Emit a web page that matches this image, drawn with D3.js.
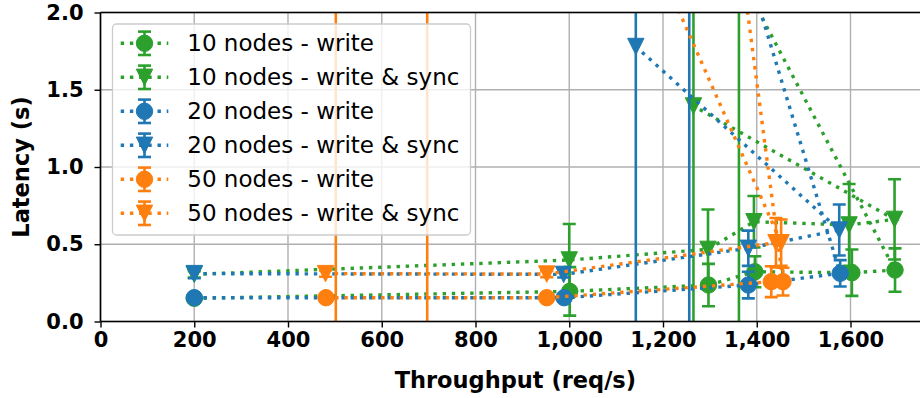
<!DOCTYPE html>
<html lang="en">
<head>
<meta charset="UTF-8">
<title>Latency vs throughput</title>
<script src="https://d3js.org/d3.v7.min.js"></script>
<style>
  body { margin: 0; background: #fff; }
  svg text { font-family: "DejaVu Sans", sans-serif; }
  .tick-label { font-size: 21px; font-weight: bold; fill: #000; }
  .axis-title { font-size: 22.5px; font-weight: bold; fill: #000; }
  .legend-text { font-size: 23px; fill: #000; }
</style>
</head>
<body>
<svg id="chart" width="920" height="398"></svg>
<script>
// series labels (legend order)
const labels = [
  "10 nodes - write",
  "10 nodes - write & sync",
  "20 nodes - write",
  "20 nodes - write & sync",
  "50 nodes - write",
  "50 nodes - write & sync"
];

// throughput (req/s), latency (s), latency error (s) per series, in run order
const tput10w  = [200, 1001, 1297, 1396, 1603, 1695, 1362];
const lat10w   = [0.15, 0.195, 0.236, 0.322, 0.316, 0.333, 2.25];
const err10w   = [0.01, 0.157, 0.137, 0.10, 0.15, 0.14, 2.5];

const tput10ws = [200, 1000, 1296, 1394, 1597, 1694, 1265];
const lat10ws  = [0.305, 0.398, 0.467, 0.646, 0.625, 0.661, 1.395];
const err10ws  = [0.02, 0.233, 0.258, 0.166, 0.265, 0.26, 1.6];

const tput20w  = [200, 989, 1382, 1578, 1256];
const lat20w   = [0.154, 0.154, 0.236, 0.312, 3.52];
const err20w   = [0.01, 0.01, 0.086, 0.085, 4.0];

const tput20ws = [200, 988, 1382, 1576, 1142];
const lat20ws  = [0.31, 0.305, 0.474, 0.592, 1.78];
const err20ws  = [0.03, 0.02, 0.114, 0.165, 2.0];

const tput50w  = [481, 952, 1431, 1456, 502];
const lat50w   = [0.154, 0.154, 0.258, 0.258, 22.3];
const err50w   = [0.01, 0.01, 0.10, 0.09, 23];

const tput50ws = [480, 952, 1441, 1452, 697];
const lat50ws  = [0.31, 0.307, 0.51, 0.51, 5.7];
const err50ws  = [0.02, 0.02, 0.16, 0.15, 6.0];

const xTicks = [0, 200, 400, 600, 800, 1000, 1200, 1400, 1600];
const yTicks = [0, 0.5, 1.0, 1.5, 2.0];

const blue = "#1f77b4", orange = "#ff7f0e", green = "#2ca02c";

const series = [
  { label: labels[0], x: tput10w,  y: lat10w,  e: err10w,  color: green,  marker: "circle" },
  { label: labels[1], x: tput10ws, y: lat10ws, e: err10ws, color: green,  marker: "tri" },
  { label: labels[2], x: tput20w,  y: lat20w,  e: err20w,  color: blue,   marker: "circle" },
  { label: labels[3], x: tput20ws, y: lat20ws, e: err20ws, color: blue,   marker: "tri" },
  { label: labels[4], x: tput50w,  y: lat50w,  e: err50w,  color: orange, marker: "circle" },
  { label: labels[5], x: tput50ws, y: lat50ws, e: err50ws, color: orange, marker: "tri" }
];

const svg = d3.select("#chart");
const plotLeft = 100.5, plotTop = 12.5, plotBottom = 321.5;

const x = d3.scaleLinear().domain([0, 1770]).range([plotLeft, plotLeft + 1770 * 0.46875]);
const y = d3.scaleLinear().domain([0, 2]).range([plotBottom, plotTop]);
const plotRight = x.range()[1];

svg.append("defs").append("clipPath").attr("id", "plot-clip")
  .append("rect")
  .attr("x", plotLeft).attr("y", plotTop)
  .attr("width", plotRight - plotLeft).attr("height", plotBottom - plotTop);

// grid
const grid = svg.append("g");
grid.selectAll(".gx").data(xTicks).enter().append("line")
  .attr("x1", d => x(d)).attr("x2", d => x(d))
  .attr("y1", plotTop).attr("y2", plotBottom)
  .attr("stroke", "#b0b0b0").attr("stroke-width", 1.4);
grid.selectAll(".gy").data(yTicks).enter().append("line")
  .attr("x1", plotLeft).attr("x2", plotRight)
  .attr("y1", d => y(d)).attr("y2", d => y(d))
  .attr("stroke", "#b0b0b0").attr("stroke-width", 1.4);

function markerPath(type, s) {
  if (type === "circle") {
    return d3.symbol().type(d3.symbolCircle).size(Math.PI * s * s)();
  }
  return `M${-s},${-s}L${s},${-s}L0,${s}Z`;
}

function drawErrorBar(g, cx, lo, hi, color, cap) {
  g.append("line")
    .attr("x1", cx).attr("x2", cx).attr("y1", lo).attr("y2", hi)
    .attr("stroke", color).attr("stroke-width", 2.6);
  [lo, hi].forEach(v => {
    g.append("line")
      .attr("x1", cx - cap).attr("x2", cx + cap).attr("y1", v).attr("y2", v)
      .attr("stroke", color).attr("stroke-width", 2.6);
  });
}

const plot = svg.append("g").attr("clip-path", "url(#plot-clip)");

series.forEach(s => {
  const g = plot.append("g");
  const pts = s.x.map((v, i) => ({ x: v, y: s.y[i], e: s.e[i] }));

  // error bars (below line and markers)
  pts.forEach(p => {
    drawErrorBar(g, x(p.x), y(p.y - p.e), y(p.y + p.e), s.color, 6.5);
  });

  // dotted connection
  g.append("path")
    .datum(pts)
    .attr("d", d3.line().x(d => x(d.x)).y(d => y(d.y)))
    .attr("fill", "none")
    .attr("stroke", s.color)
    .attr("stroke-width", 3.4)
    .attr("stroke-dasharray", "3.4 5.8");

  // markers
  g.selectAll(".m").data(pts).enter().append("path")
    .attr("transform", d => `translate(${x(d.x)},${y(d.y)})`)
    .attr("d", markerPath(s.marker, 8.2))
    .attr("fill", s.color)
    .attr("stroke", s.color)
    .attr("stroke-width", 1);
});

// spines
const frame = svg.append("g");
frame.append("line").attr("x1", plotLeft).attr("x2", plotRight).attr("y1", plotTop).attr("y2", plotTop)
  .attr("stroke", "#000").attr("stroke-width", 1.6);
frame.append("line").attr("x1", plotLeft).attr("x2", plotRight).attr("y1", plotBottom).attr("y2", plotBottom)
  .attr("stroke", "#000").attr("stroke-width", 1.6);
frame.append("line").attr("x1", plotLeft).attr("x2", plotLeft).attr("y1", plotTop).attr("y2", plotBottom)
  .attr("stroke", "#000").attr("stroke-width", 1.6);

// axes
const xAxis = svg.append("g")
  .attr("transform", `translate(0,${plotBottom})`)
  .call(d3.axisBottom(x).tickValues(xTicks).tickFormat(d3.format(",")).tickSize(6).tickPadding(5));
const yAxis = svg.append("g")
  .attr("transform", `translate(${plotLeft},0)`)
  .call(d3.axisLeft(y).tickValues(yTicks).tickFormat(d3.format(".1f")).tickSize(6).tickPadding(11));
[xAxis, yAxis].forEach(a => {
  a.select(".domain").remove();
  a.selectAll(".tick line").attr("stroke", "#000").attr("stroke-width", 1.4);
  a.selectAll(".tick text").attr("class", "tick-label").attr("fill", "#000")
    .style("font-family", "'DejaVu Sans', sans-serif");
});

svg.append("text").attr("class", "axis-title")
  .attr("x", (plotLeft + plotRight) / 2).attr("y", 388)
  .attr("text-anchor", "middle")
  .text("Throughput (req/s)");
svg.append("text").attr("class", "axis-title")
  .attr("transform", `translate(29,${(plotTop + plotBottom) / 2}) rotate(-90)`)
  .attr("text-anchor", "middle")
  .text("Latency (s)");

// legend
const legend = svg.append("g");
legend.append("rect")
  .attr("x", 112.5).attr("y", 24).attr("width", 358).attr("height", 211)
  .attr("rx", 4).attr("fill", "#fff").attr("fill-opacity", 0.8)
  .attr("stroke", "#cccccc").attr("stroke-width", 1.3);

series.forEach((s, i) => {
  const cy = 43.3 + 34 * i;
  const g = legend.append("g");
  drawErrorBar(g, 144.5, cy + 11.7, cy - 11.7, s.color, 6.5);
  g.append("line")
    .attr("x1", 120.7).attr("x2", 168.3).attr("y1", cy).attr("y2", cy)
    .attr("stroke", s.color).attr("stroke-width", 3.4)
    .attr("stroke-dasharray", "3.4 5.8");
  g.append("path")
    .attr("transform", `translate(144.5,${cy})`)
    .attr("d", markerPath(s.marker, 8.2))
    .attr("fill", s.color).attr("stroke", s.color).attr("stroke-width", 1);
  g.append("text").attr("class", "legend-text")
    .attr("x", 187.3).attr("y", cy)
    .attr("dominant-baseline", "central")
    .text(s.label);
});
</script>
</body>
</html>
